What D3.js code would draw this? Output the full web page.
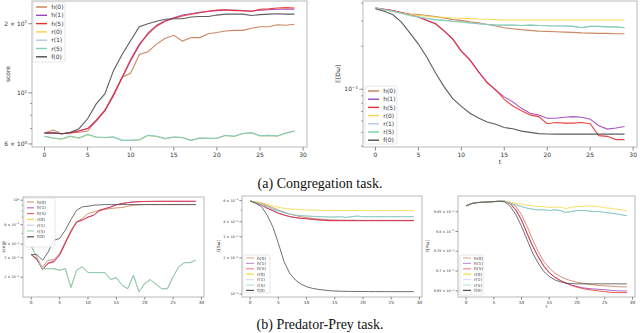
<!DOCTYPE html>
<html>
<head>
<meta charset="utf-8">
<script src="https://cdn.jsdelivr.net/npm/d3@7"></script>
<style>
  body { margin: 0; background: #fff; }
  svg { display: block; font-family: "DejaVu Sans", sans-serif; }
</style>
</head>
<body>
<svg id="chart" width="640" height="333"></svg>
<script>
// steps on the x axis
var steps = [0,1,2,3,4,5,6,7,8,9,10,11,12,13,14,15,16,17,18,19,20,21,22,23,24,25,26,27,28,29];
var xTicks = [0, 5, 10, 15, 20, 25, 30];
var seriesNames = ["h(0)", "h(1)", "h(5)", "r(0)", "r(1)", "r(5)", "f(0)"];
var seriesColors = ["#c77b52", "#9c44b8", "#e8302e", "#f5d743", "#b6c4ea", "#7dcfae", "#4d4d4d"];

// (a) congregation, score
var congScoreTicks = [6, 10, 20];
var congScoreH0 = [6.7,6.9,6.65,6.7,6.75,6.83,7.6,8.4,9.9,11.7,12.2,14.7,15.1,16.3,17.3,17.8,16.8,17.4,17.4,18.1,18.3,18.6,18.7,18.7,19.1,19.4,19.4,19.8,19.7,19.9];
var congScoreH1 = [6.7,6.72,6.65,6.72,6.85,7.0,7.55,8.35,9.8,11.6,13.8,16.1,18.2,19.7,20.6,21.2,21.8,22.1,22.4,22.6,22.8,22.9,22.9,22.8,22.7,22.9,23.0,23.1,23.1,23.1];
var congScoreH5 = [6.7,6.7,6.65,6.7,6.83,7.0,7.6,8.4,9.7,11.7,14.0,16.3,18.0,19.5,20.5,21.1,21.6,22.0,22.3,22.7,22.9,23.0,22.8,22.8,22.6,23.1,23.2,23.4,23.5,23.4];
var congScoreR0 = [6.47,6.36,6.3,6.47,6.36,6.58,6.42,6.39,6.42,6.21,6.21,6.25,6.53,6.47,6.32,6.42,6.39,6.21,6.36,6.34,6.34,6.53,6.47,6.65,6.71,6.5,6.53,6.49,6.68,6.82];
var congScoreR1 = [6.48,6.37,6.31,6.48,6.37,6.59,6.43,6.4,6.43,6.22,6.22,6.26,6.54,6.48,6.33,6.43,6.4,6.22,6.37,6.35,6.35,6.54,6.48,6.66,6.72,6.51,6.54,6.5,6.69,6.83];
var congScoreR5 = [6.48,6.37,6.31,6.48,6.37,6.6,6.43,6.4,6.43,6.22,6.22,6.26,6.54,6.48,6.33,6.43,6.4,6.22,6.37,6.35,6.35,6.54,6.48,6.66,6.72,6.51,6.54,6.5,6.69,6.83];
var congScoreF0 = [6.7,6.7,6.65,6.75,6.99,7.72,8.96,9.9,12.5,14.7,16.9,19.4,20.0,20.5,20.9,21.0,21.0,21.4,21.5,21.5,21.8,22.0,22.0,22.0,21.7,21.9,22.0,22.1,22.0,22.0];

// (a) congregation, distance
var congDistTicks = [0.1];
var congDistH0 = [0.370,0.360,0.351,0.341,0.336,0.333,0.328,0.322,0.315,0.307,0.303,0.296,0.291,0.284,0.277,0.269,0.265,0.261,0.258,0.255,0.254,0.2525,0.251,0.250,0.248,0.247,0.246,0.246,0.2445,0.2445];
var congDistH1 = [0.370,0.362,0.355,0.344,0.333,0.320,0.303,0.287,0.256,0.225,0.185,0.161,0.133,0.112,0.0984,0.0885,0.0817,0.0736,0.068,0.0662,0.0628,0.0628,0.0638,0.0644,0.0638,0.0618,0.0556,0.0527,0.0536,0.055];
var congDistH5 = [0.370,0.362,0.355,0.344,0.333,0.320,0.303,0.287,0.255,0.224,0.184,0.160,0.132,0.111,0.0995,0.0849,0.0764,0.0708,0.0662,0.0644,0.0574,0.0586,0.058,0.058,0.0586,0.0574,0.0474,0.0469,0.0445,0.0445];
var congDistR0 = [0.370,0.360,0.351,0.341,0.333,0.328,0.324,0.320,0.319,0.315,0.314,0.312,0.310,0.309,0.307,0.305,0.305,0.305,0.305,0.305,0.305,0.305,0.305,0.305,0.305,0.305,0.305,0.305,0.305,0.305];
var congDistR1 = [0.370,0.360,0.351,0.340,0.328,0.320,0.312,0.307,0.303,0.299,0.296,0.291,0.287,0.284,0.282,0.281,0.281,0.279,0.281,0.279,0.278,0.277,0.277,0.275,0.270,0.275,0.275,0.273,0.273,0.269];
var congDistR5 = [0.370,0.360,0.351,0.340,0.328,0.320,0.312,0.307,0.303,0.299,0.296,0.291,0.287,0.284,0.282,0.281,0.281,0.279,0.281,0.279,0.278,0.277,0.277,0.275,0.269,0.275,0.275,0.273,0.273,0.269];
var congDistF0 = [0.366,0.351,0.333,0.296,0.248,0.207,0.167,0.130,0.104,0.086,0.076,0.068,0.063,0.059,0.057,0.054,0.053,0.051,0.050,0.049,0.0487,0.0486,0.0486,0.0486,0.0486,0.0486,0.0486,0.0486,0.0486,0.0486];

// (b) predator-prey, score
var ppScoreTicks = [0.2, 0.3, 0.4, 0.6, 1];
var ppScoreH0 = [0.321,0.285,0.248,0.285,0.289,0.327,0.418,0.534,0.636,0.681,0.757,0.783,0.811,0.828,0.840,0.852,0.858,0.882,0.901,0.907,0.913,0.913,0.913,0.913,0.913,0.913,0.913,0.913,0.913,0.913];
var ppScoreH1 = [0.321,0.29,0.236,0.27,0.28,0.32,0.41,0.52,0.63,0.66,0.70,0.73,0.80,0.835,0.865,0.905,0.93,0.95,0.963,0.97,0.972,0.975,0.976,0.977,0.977,0.977,0.977,0.977,0.977,0.977];
var ppScoreH5 = [0.321,0.295,0.234,0.266,0.275,0.316,0.404,0.515,0.636,0.658,0.705,0.731,0.811,0.840,0.870,0.913,0.933,0.952,0.966,0.972,0.975,0.977,0.978,0.979,0.979,0.979,0.979,0.979,0.979,0.979];
var ppScoreR0 = [0.382,0.305,0.239,0.239,0.239,0.231,0.239,0.161,0.231,0.248,0.220,0.220,0.220,0.220,0.190,0.198,0.169,0.157,0.208,0.147,0.175,0.190,0.172,0.157,0.157,0.201,0.248,0.271,0.271,0.285];
var ppScoreR1 = [0.382,0.305,0.239,0.239,0.239,0.231,0.239,0.161,0.231,0.248,0.220,0.220,0.220,0.220,0.190,0.198,0.169,0.157,0.208,0.147,0.175,0.190,0.172,0.157,0.157,0.201,0.248,0.271,0.271,0.285];
var ppScoreR5 = [0.382,0.305,0.239,0.239,0.239,0.231,0.239,0.161,0.231,0.248,0.220,0.220,0.220,0.220,0.190,0.198,0.169,0.157,0.208,0.147,0.175,0.190,0.172,0.157,0.157,0.201,0.248,0.271,0.271,0.285];
var ppScoreF0 = [0.321,0.321,0.285,0.339,0.433,0.449,0.534,0.667,0.811,0.870,0.882,0.901,0.907,0.913,0.913,0.913,0.913,0.913,0.913,0.913,0.913,0.913,0.913,0.913,0.913,0.913,0.913,0.913,0.913,0.913];

// (b) predator-prey, middle panel
var ppMidTicks = [0.1, 0.2, 0.3, 0.4, 0.6];
var ppMidH0 = [0.596,0.584,0.569,0.548,0.524,0.501,0.482,0.464,0.452,0.441,0.433,0.427,0.422,0.419,0.416,0.414,0.413,0.412,0.412,0.411,0.411,0.411,0.411,0.411,0.411,0.411,0.411,0.411,0.411,0.411];
var ppMidH1 = [0.596,0.578,0.553,0.52,0.497,0.472,0.456,0.443,0.434,0.428,0.425,0.42,0.416,0.413,0.41,0.41,0.41,0.41,0.41,0.41,0.41,0.41,0.41,0.41,0.41,0.41,0.41,0.41,0.41,0.41];
var ppMidH5 = [0.596,0.577,0.552,0.518,0.495,0.470,0.455,0.441,0.433,0.427,0.424,0.419,0.414,0.411,0.408,0.408,0.408,0.408,0.408,0.408,0.408,0.408,0.408,0.408,0.408,0.408,0.408,0.408,0.408,0.408];
var ppMidR0 = [0.596,0.588,0.577,0.559,0.541,0.528,0.518,0.511,0.508,0.505,0.501,0.501,0.498,0.498,0.498,0.497,0.497,0.496,0.496,0.496,0.495,0.495,0.495,0.495,0.495,0.495,0.495,0.495,0.495,0.495];
var ppMidR1 = [0.596,0.580,0.559,0.535,0.511,0.492,0.476,0.464,0.455,0.450,0.447,0.444,0.441,0.441,0.438,0.438,0.441,0.435,0.441,0.446,0.441,0.441,0.441,0.441,0.441,0.441,0.441,0.441,0.441,0.441];
var ppMidR5 = [0.596,0.580,0.559,0.535,0.511,0.492,0.476,0.464,0.455,0.450,0.447,0.444,0.441,0.441,0.438,0.438,0.441,0.435,0.441,0.447,0.441,0.441,0.441,0.441,0.441,0.441,0.441,0.441,0.441,0.441];
var ppMidF0 = [0.596,0.569,0.535,0.455,0.364,0.264,0.186,0.149,0.131,0.121,0.115,0.1115,0.1094,0.108,0.1066,0.106,0.1055,0.1052,0.105,0.105,0.1048,0.1048,0.1047,0.1047,0.1046,0.1046,0.1046,0.1046,0.1046,0.1046];

// (b) predator-prey, right panel
var ppRightTicks = [0.965, 0.97, 0.975, 0.98, 0.985];
var ppRightH0 = [0.98652,0.98711,0.98736,0.98745,0.98753,0.98762,0.98770,0.98770,0.98736,0.98635,0.98424,0.98129,0.97791,0.97496,0.97242,0.97074,0.96947,0.96863,0.96795,0.96753,0.96719,0.96694,0.96669,0.96652,0.96635,0.96626,0.96618,0.96610,0.96601,0.96601];
var ppRightH1 = [0.98652,0.98711,0.98736,0.98745,0.98753,0.98762,0.98770,0.98770,0.98700,0.98540,0.98280,0.97940,0.97620,0.97350,0.97120,0.96955,0.96840,0.96760,0.96700,0.96650,0.96610,0.96580,0.96560,0.96550,0.96540,0.96530,0.96515,0.96505,0.96500,0.96500];
var ppRightH5 = [0.98652,0.98711,0.98736,0.98745,0.98753,0.98762,0.98770,0.98770,0.98703,0.98551,0.98297,0.97960,0.97639,0.97369,0.97133,0.96964,0.96846,0.96761,0.96694,0.96635,0.96593,0.96559,0.96533,0.96517,0.96500,0.96483,0.96466,0.96458,0.96458,0.96458];
var ppRightR0 = [0.98652,0.98711,0.98736,0.98745,0.98753,0.98762,0.98770,0.98770,0.98745,0.98719,0.98694,0.98669,0.98652,0.98635,0.98635,0.98610,0.98618,0.98618,0.98584,0.98618,0.98635,0.98635,0.98652,0.98643,0.98635,0.98601,0.98593,0.98568,0.98551,0.98525];
var ppRightR1 = [0.98652,0.98711,0.98736,0.98745,0.98753,0.98762,0.98770,0.98770,0.98719,0.98677,0.98635,0.98593,0.98568,0.98551,0.98551,0.98534,0.98551,0.98534,0.98483,0.98508,0.98534,0.98534,0.98525,0.98508,0.98508,0.98483,0.98466,0.98449,0.98424,0.98399];
var ppRightR5 = [0.98652,0.98711,0.98736,0.98745,0.98753,0.98762,0.98770,0.98770,0.98719,0.98677,0.98635,0.98593,0.98568,0.98551,0.98551,0.98534,0.98551,0.98534,0.98483,0.98508,0.98534,0.98534,0.98525,0.98508,0.98508,0.98483,0.98466,0.98449,0.98424,0.98399];
var ppRightF0 = [0.98652,0.98711,0.98736,0.98745,0.98753,0.98762,0.98770,0.98753,0.98635,0.98424,0.98129,0.97791,0.97453,0.97200,0.96989,0.96863,0.96778,0.96728,0.96694,0.96685,0.96677,0.96677,0.96677,0.96677,0.96677,0.96677,0.96677,0.96677,0.96677,0.96677];

var svg = d3.select("#chart");

// layout of each panel (pixels), separate from the data above
var panels = [
    {left: 32, right: 307, top: 1, bottom: 147, yDomain: [5.82, 25.1], ticks: congScoreTicks,
     series: [congScoreH0, congScoreH1, congScoreH5, congScoreR0, congScoreR1, congScoreR5, congScoreF0],
     ylabel: "score", ylabelX: 10, xlabel: null, font: 6, yFont: 6, lw: 1.1, legAlpha: 1,
     legend: {x: 33, y: 2, w: 32, h: 60, row0: 7, gap: 8.3, len: 11}},
    {left: 363, right: 637, top: 1, bottom: 147, yDomain: [0.0395, 0.414], ticks: congDistTicks,
     series: [congDistH0, congDistH1, congDistH5, congDistR0, congDistR1, congDistR5, congDistF0],
     ylabel: "\u{1D53C}[D\u03C9]", ylabelX: 340, xlabel: "t", xlabelY: 164, font: 6, yFont: 6, lw: 1.1, legAlpha: 1,
     legend: {x: 365, y: 86, w: 32, h: 58, row0: 91, gap: 8.2, len: 11}},
    {left: 23, right: 204, top: 197, bottom: 297, yDomain: [0.132, 1.07], ticks: ppScoreTicks,
     series: [ppScoreH0, ppScoreH1, ppScoreH5, ppScoreR0, ppScoreR1, ppScoreR5, ppScoreF0],
     ylabel: "score", ylabelX: 5, xlabel: null, font: 4.3, yFont: 3.4, lw: 0.9, legAlpha: 0.75,
     legend: {x: 24, y: 198, w: 31, h: 49, row0: 202, gap: 5.8, len: 7}},
    {left: 242, right: 422, top: 196, bottom: 297, yDomain: [0.0944, 0.656], ticks: ppMidTicks,
     series: [ppMidH0, ppMidH1, ppMidH5, ppMidR0, ppMidR1, ppMidR5, ppMidF0],
     ylabel: "\u{1D53C}[S\u03C9]", ylabelX: 220, xlabel: null, font: 4.3, yFont: 3.4, lw: 0.9, legAlpha: 0.55,
     legend: {x: 243, y: 255, w: 27, h: 38, row0: 258, gap: 5.4, len: 8}},
    {left: 458, right: 635, top: 196, bottom: 297, yDomain: [0.96348, 0.98905], ticks: ppRightTicks,
     series: [ppRightH0, ppRightH1, ppRightH5, ppRightR0, ppRightR1, ppRightR5, ppRightF0],
     ylabel: "\u{1D53C}[P\u03C9]", ylabelX: 429, xlabel: "t", xlabelY: 308, font: 4.3, yFont: 3.4, lw: 0.9, legAlpha: 0.55,
     legend: {x: 460, y: 255, w: 23, h: 40, row0: 258, gap: 5.4, len: 8}}
];

// split a tick value into "m × 10" and an exponent, like matplotlib log labels
function tickParts(v) {
    var e = Math.floor(Math.log10(v) + 1e-9);
    var m = Math.round(v / Math.pow(10, e) * 100) / 100;
    var exp = (e < 0 ? "\u2212" + (-e) : "" + e);
    return {base: m === 1 ? "10" : m + " \u00D7 10", exp: exp};
}

panels.forEach(function(p) {
    var g = svg.append("g");
    var x = d3.scaleLinear().domain([-1.45, 30.45]).range([p.left, p.right]);
    var y = d3.scaleLog().domain(p.yDomain).range([p.bottom, p.top]);
    var tickLen = p.font * 0.6;

    // minor log ticks (k * 10^e) that carry no label
    var minor = [];
    for (var e = -3; e <= 2; e++) {
        for (var k = 1; k < 10; k++) {
            var v = k * Math.pow(10, e);
            if (v >= p.yDomain[0] && v <= p.yDomain[1] &&
                !p.ticks.some(function(t) { return Math.abs(t - v) < 1e-9; })) minor.push(v);
        }
    }

    var line = d3.line()
        .x(function(d, i) { return x(steps[i]); })
        .y(function(d) { return y(d); });

    p.series.forEach(function(s, i) {
        g.append("path")
            .attr("d", line(s))
            .attr("fill", "none")
            .attr("stroke", seriesColors[i])
            .attr("stroke-width", p.lw)
            .attr("stroke-opacity", 0.9);
    });

    // frame
    g.append("rect")
        .attr("x", p.left).attr("y", p.top)
        .attr("width", p.right - p.left).attr("height", p.bottom - p.top)
        .attr("fill", "none").attr("stroke", "#a8a8a8").attr("stroke-width", 0.8);

    // x ticks
    xTicks.forEach(function(t) {
        g.append("line")
            .attr("x1", x(t)).attr("x2", x(t))
            .attr("y1", p.bottom).attr("y2", p.bottom + tickLen)
            .attr("stroke", "#444").attr("stroke-width", 0.6);
        g.append("text")
            .attr("x", x(t)).attr("y", p.bottom + tickLen + p.font * 1.05)
            .attr("text-anchor", "middle")
            .attr("font-size", p.font).attr("fill", "#333")
            .text(t);
    });

    // y ticks
    minor.forEach(function(v) {
        g.append("line")
            .attr("x1", p.left - tickLen * 0.55).attr("x2", p.left)
            .attr("y1", y(v)).attr("y2", y(v))
            .attr("stroke", "#444").attr("stroke-width", 0.5);
    });
    p.ticks.forEach(function(v) {
        var parts = tickParts(v);
        g.append("line")
            .attr("x1", p.left - tickLen).attr("x2", p.left)
            .attr("y1", y(v)).attr("y2", y(v))
            .attr("stroke", "#444").attr("stroke-width", 0.6);
        var txt = g.append("text")
            .attr("x", p.left - tickLen - 1.2).attr("y", y(v) + p.yFont * 0.35)
            .attr("text-anchor", "end")
            .attr("font-size", p.yFont).attr("fill", "#333");
        txt.append("tspan").text(parts.base);
        txt.append("tspan")
            .attr("dy", -p.yFont * 0.4)
            .attr("font-size", p.yFont * 0.7)
            .text(parts.exp);
    });

    // axis labels
    g.append("text")
        .attr("transform", "translate(" + p.ylabelX + "," + (p.top + p.bottom) / 2 + ") rotate(-90)")
        .attr("text-anchor", "middle")
        .attr("font-size", p.font).attr("fill", "#333")
        .text(p.ylabel);
    if (p.xlabel) {
        g.append("text")
            .attr("x", (p.left + p.right) / 2).attr("y", p.xlabelY)
            .attr("text-anchor", "middle")
            .attr("font-size", p.font).attr("fill", "#333")
            .text(p.xlabel);
    }

    // legend
    var L = p.legend;
    g.append("rect")
        .attr("x", L.x).attr("y", L.y).attr("width", L.w).attr("height", L.h)
        .attr("rx", 1.5)
        .attr("fill", "#fff").attr("fill-opacity", 0.85)
        .attr("stroke", "#d6d6d6").attr("stroke-width", 0.6);
    seriesNames.forEach(function(name, i) {
        var ry = L.row0 + i * L.gap;
        g.append("line")
            .attr("x1", L.x + 3).attr("x2", L.x + 3 + L.len)
            .attr("y1", ry).attr("y2", ry)
            .attr("stroke", seriesColors[i]).attr("stroke-width", p.lw + 0.3)
            .attr("stroke-opacity", i === 3 || i === 6 ? 1 : p.legAlpha);
        g.append("text")
            .attr("x", L.x + 3 + L.len + p.font * 0.7).attr("y", ry + p.font * 0.35)
            .attr("font-size", p.font).attr("fill", "#333")
            .text(name);
    });
});

// captions
svg.append("text")
    .attr("x", 320).attr("y", 188)
    .attr("text-anchor", "middle")
    .attr("font-family", "'Liberation Serif', serif").attr("font-size", 14)
    .attr("fill", "#111")
    .text("(a) Congregation task.");
svg.append("text")
    .attr("x", 320).attr("y", 329)
    .attr("text-anchor", "middle")
    .attr("font-family", "'Liberation Serif', serif").attr("font-size", 14)
    .attr("fill", "#111")
    .text("(b) Predator-Prey task.");
</script>
</body>
</html>
